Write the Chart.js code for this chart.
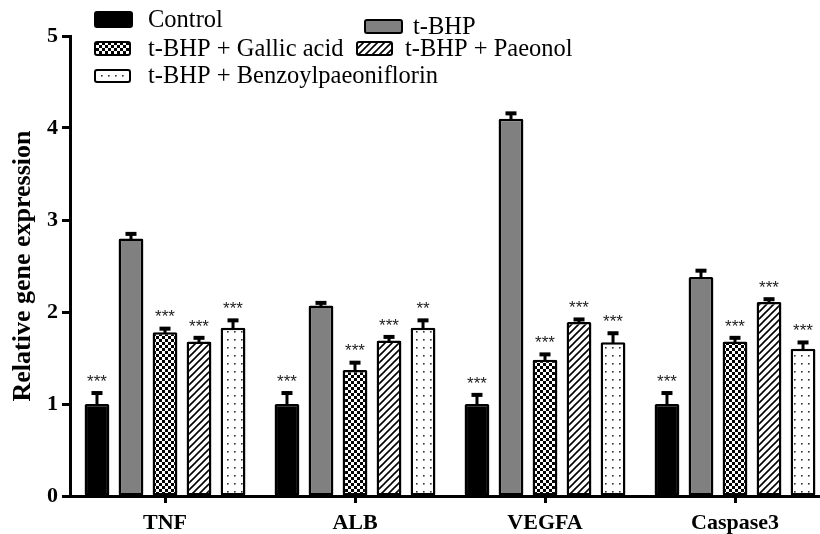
<!DOCTYPE html>
<html lang="en">
<head>
  <meta charset="UTF-8">
  <title>Relative gene expression</title>
  <script src="https://cdn.jsdelivr.net/npm/chart.js"></script>
  <style>
    html, body { margin: 0; padding: 0; background: #fff; overflow: hidden; }
    #grafico { display: block; }
  </style>
</head>
<body>
  <canvas id="grafico" width="840" height="534"></canvas>

  <script>
    // data
    const genes = ['TNF', 'ALB', 'VEGFA', 'Caspase3'];
    const seriesNames = ['Control', 't-BHP', 't-BHP + Gallic acid', 't-BHP + Paeonol', 't-BHP + Benzoylpaeoniflorin'];

    const controlVals = [1.00, 1.00, 1.00, 1.00];
    const tbhpVals    = [2.80, 2.07, 4.10, 2.38];
    const gallicVals  = [1.78, 1.37, 1.48, 1.68];
    const paeonolVals = [1.68, 1.69, 1.89, 2.11];
    const benzoylVals = [1.83, 1.83, 1.67, 1.60];

    const controlErr = [0.13, 0.13, 0.11, 0.13];
    const tbhpErr    = [0.06, 0.04, 0.07, 0.08];
    const gallicErr  = [0.05, 0.09, 0.07, 0.05];
    const paeonolErr = [0.05, 0.05, 0.04, 0.04];
    const benzoylErr = [0.09, 0.09, 0.11, 0.08];

    const controlSig = ['***', '***', '***', '***'];
    const tbhpSig    = ['', '', '', ''];
    const gallicSig  = ['***', '***', '***', '***'];
    const paeonolSig = ['***', '***', '***', '***'];
    const benzoylSig = ['***', '**', '***', '***'];

    const yTicks = [0, 1, 2, 3, 4, 5];

    // fill patterns
    function tile(w, h, draw) {
      const c = document.createElement('canvas');
      c.width = w; c.height = h;
      const g = c.getContext('2d');
      g.fillStyle = '#fff';
      g.fillRect(0, 0, w, h);
      draw(g);
      return document.getElementById('grafico').getContext('2d').createPattern(c, 'repeat');
    }
    const xadrez = tile(6, 6, g => {
      g.fillStyle = '#000';
      g.fillRect(0, 0, 3, 3);
      g.fillRect(3, 3, 3, 3);
    });
    const listras = tile(7, 7, g => {
      g.strokeStyle = '#000';
      g.lineWidth = 1.6;
      g.beginPath();
      g.moveTo(-1, 8); g.lineTo(8, -1);
      g.moveTo(-1, 1); g.lineTo(1, -1);
      g.moveTo(6, 8); g.lineTo(8, 6);
      g.stroke();
    });
    const pontos = tile(7, 8, g => {
      g.fillStyle = '#333';
      g.fillRect(3, 3, 1.6, 1.6);
    });

    const fills = ['#000', '#808080', xadrez, listras, pontos];
    const allVals = [controlVals, tbhpVals, gallicVals, paeonolVals, benzoylVals];
    const allErr = [controlErr, tbhpErr, gallicErr, paeonolErr, benzoylErr];
    const allSig = [controlSig, tbhpSig, gallicSig, paeonolSig, benzoylSig];

    const serif = "'Liberation Serif', 'Times New Roman', serif";

    // error bars + stars
    const barrasErro = {
      id: 'barrasErro',
      afterDatasetsDraw(chart) {
        const ctx = chart.ctx;
        const y = chart.scales.y;
        chart.data.datasets.forEach((ds, i) => {
          const meta = chart.getDatasetMeta(i);
          meta.data.forEach((bar, j) => {
            const topo = y.getPixelForValue(ds.data[j] + ds.erro[j]);
            ctx.save();
            ctx.fillStyle = '#000';
            ctx.fillRect(bar.x - 1.5, topo, 3, bar.y - topo + 1);
            ctx.fillRect(bar.x - 5.5, topo - 1, 11, 4);
            if (ds.sig[j]) {
              ctx.font = "17px 'Liberation Sans', Arial, sans-serif";
              ctx.textAlign = 'center';
              ctx.textBaseline = 'middle';
              ctx.fillStyle = '#222';
              ctx.fillText(ds.sig[j], bar.x, topo - 10);
            }
            ctx.restore();
          });
        });
      }
    };

    // legend laid out like the figure
    const legenda = {
      id: 'legenda',
      afterDraw(chart) {
        const ctx = chart.ctx;
        const caixas = [
          { sx: 95,  sy: 12, w: 37, h: 15, tx: 148, ty: 20 },
          { sx: 365, sy: 20, w: 37, h: 13, tx: 413, ty: 27 },
          { sx: 95,  sy: 42, w: 35, h: 13, tx: 148, ty: 49 },
          { sx: 357, sy: 42, w: 35, h: 13, tx: 405, ty: 49 },
          { sx: 95,  sy: 70, w: 35, h: 12, tx: 148, ty: 76 }
        ];
        chart.data.datasets.forEach((ds, i) => {
          const c = caixas[i];
          ctx.save();
          ctx.fillStyle = ds.backgroundColor;
          ctx.strokeStyle = '#000';
          ctx.lineWidth = 2;
          ctx.beginPath();
          ctx.roundRect(c.sx, c.sy, c.w, c.h, 2);
          ctx.fill();
          ctx.stroke();
          ctx.fillStyle = '#000';
          ctx.font = '24.5px ' + serif;
          ctx.textAlign = 'left';
          ctx.textBaseline = 'middle';
          ctx.fillText(ds.label, c.tx, c.ty + 1);
          ctx.restore();
        });
      }
    };

    const ctx = document.getElementById('grafico').getContext('2d');
    new Chart(ctx, {
      type: 'bar',
      data: {
        labels: genes,
        datasets: seriesNames.map((nome, i) => ({
          label: nome,
          data: allVals[i],
          erro: allErr[i],
          sig: allSig[i],
          backgroundColor: fills[i],
          borderColor: '#000',
          borderWidth: 2.5,
          borderSkipped: false,
          borderRadius: 1.5,
          categoryPercentage: 0.895,
          barPercentage: 0.73
        }))
      },
      options: {
        responsive: false,
        animation: false,
        devicePixelRatio: 1,
        layout: { padding: { top: 36, right: 10, left: 0, bottom: 0 } },
        plugins: {
          legend: { display: false },
          tooltip: { enabled: false }
        },
        scales: {
          x: {
            grid: { display: true, offset: false, drawOnChartArea: false, drawTicks: true, tickLength: 7, tickWidth: 3, tickColor: '#000' },
            border: { display: true, color: '#000', width: 3 },
            ticks: { color: '#000', padding: 7, font: { family: serif, size: 22, weight: 'bold' } },
            afterFit(scale) { scale.height = 38; }
          },
          y: {
            min: 0,
            max: 5,
            afterBuildTicks(scale) { scale.ticks = yTicks.map(v => ({ value: v })); },
            grid: { display: true, drawOnChartArea: false, drawTicks: true, tickLength: 8, tickWidth: 3, tickColor: '#000' },
            border: { display: true, color: '#000', width: 3 },
            ticks: { color: '#000', padding: 4, font: { family: serif, size: 22, weight: 'bold' } },
            title: {
              display: true,
              text: 'Relative gene expression',
              color: '#000',
              padding: { top: 8, bottom: 0 },
              font: { family: serif, size: 26, weight: 'bold' }
            },
            afterFit(scale) { scale.width = 70; }
          }
        }
      },
      plugins: [barrasErro, legenda]
    });
  </script>
</body>
</html>
